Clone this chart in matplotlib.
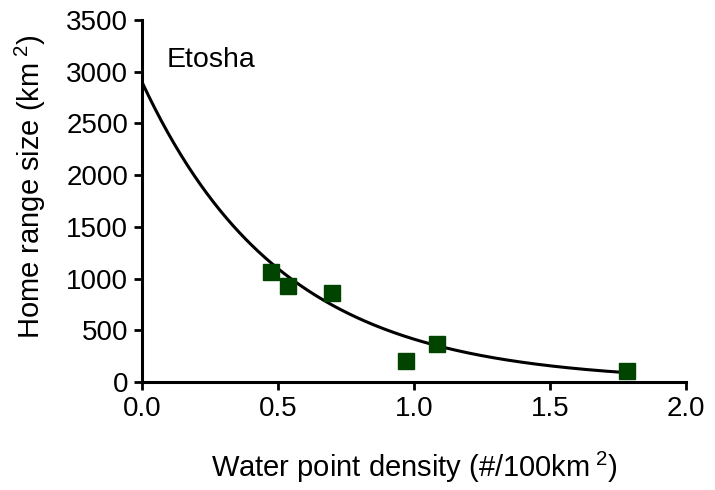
import numpy as np
import matplotlib
matplotlib.use("Agg")
import matplotlib.pyplot as plt

plt.rcParams['font.family'] = ['Liberation Sans', 'DejaVu Sans']
plt.rcParams['mathtext.fontset'] = 'custom'
plt.rcParams['mathtext.rm'] = 'Liberation Sans'
plt.rcParams['mathtext.it'] = 'Liberation Sans'

# Waterhole density vs. home range size (Etosha)
densidad = [0.473, 0.536, 0.697, 0.969, 1.086, 1.784]
area = [1061, 931, 858, 203, 367, 109]

# Exponential decay fit: Y = Y0 * exp(-k * x)
y0 = 2900
k = 1.946

x_ticks = [0.0, 0.5, 1.0, 1.5, 2.0]
y_ticks = [0, 500, 1000, 1500, 2000, 2500, 3000, 3500]

fig = plt.figure(figsize=(7.15, 4.9), dpi=100)
ax = fig.add_axes([0.1986, 0.2204, 0.7608, 0.7388])

xs = np.linspace(0, max(densidad), 300)
ax.plot(xs, y0 * np.exp(-k * xs), color='black', lw=2.2, zorder=2)
ax.plot(densidad, area, 's', color='#004400', markersize=11, zorder=3,
        clip_on=False)

ax.set_xlim(0, 2.0)
ax.set_ylim(0, 3500)
ax.set_xticks(x_ticks)
ax.set_xticklabels([f'{t:.1f}' for t in x_ticks])
ax.set_yticks(y_ticks)

for s in ['top', 'right']:
    ax.spines[s].set_visible(False)
for s in ['left', 'bottom']:
    ax.spines[s].set_linewidth(2.2)
ax.tick_params(direction='out', length=6, width=2.0, labelsize=20, pad=4)

ax.text(0.092, 3114, 'Etosha', fontsize=20.5, va='center', ha='left')
ax.set_xlabel('Water point density (#/100km$^{\\ 2}$)', fontsize=21, va='center')
ax.set_ylabel('Home range size (km$^{\\ 2}$)', fontsize=21, va='center')
ax.xaxis.set_label_coords(0.5, -0.235)
ax.yaxis.set_label_coords(-0.206, 0.54)

fig.savefig('out.png', dpi=100)
